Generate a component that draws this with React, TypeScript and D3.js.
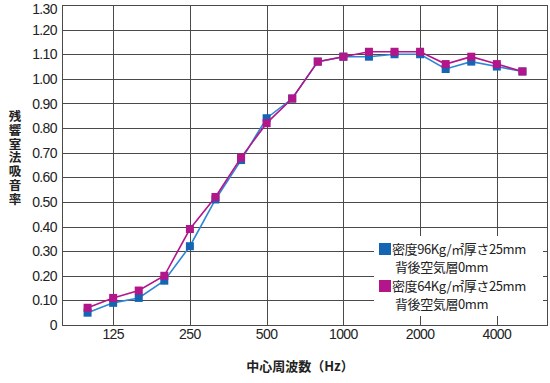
import React from "react";
import * as d3 from "d3";

const freqLabels = ["100","125","160","200","250","315","400","500","630","800","1000","1250","1600","2000","2500","3150","4000","5000"];
const series96 = [0.05,0.09,0.11,0.18,0.32,0.51,0.67,0.84,0.92,1.07,1.09,1.09,1.10,1.10,1.04,1.07,1.05,1.03];
const series64 = [0.07,0.11,0.14,0.20,0.39,0.52,0.68,0.82,0.92,1.07,1.09,1.11,1.11,1.11,1.06,1.09,1.06,1.03];
const xTickLabels = ["125","250","500","1000","2000","4000"];
const yTicks = [0,0.1,0.2,0.3,0.4,0.5,0.6,0.7,0.8,0.9,1.0,1.1,1.2,1.3];
const yTitle = "残響室法吸音率";
const xTitle = "中心周波数（Hz）";
const legendLine1 = ["密度96Kg/㎡厚さ25mm","密度64Kg/㎡厚さ25mm"];
const legendLine2 = ["背後空気層0mm","背後空気層0mm"];
const colors = ["#1466b4","#b3158a"];
const lineColors = ["#2e86d4","#b3158a"];

const W = 550, H = 383;
const L = 62, R = 548, T = 5, B = 325;

export default function App() {
  const x = d3.scaleLinear().domain([-1, freqLabels.length]).range([L, R]);
  const y = d3.scaleLinear().domain([0, 1.3]).range([B, T]);
  const line = d3.line<number>().x((_, i) => x(i)).y((d) => y(d));
  const font = "'Liberation Sans', Arial, sans-serif";
  const cjk = "'Noto Sans CJK JP', sans-serif";
  const xIdx = xTickLabels.map((l) => freqLabels.indexOf(l));
  const series = [series96, series64];
  return (
    <svg width={W} height={H} style={{ position: "absolute", left: 0, top: 0 }}>
      <rect x={0} y={0} width={W} height={H} fill="#fff" />
      {yTicks.map((t) => (
        <line key={"h" + t} x1={L} x2={R} y1={Math.round(y(t)) + 0.5} y2={Math.round(y(t)) + 0.5} stroke="#4a4a4a" strokeWidth={1} />
      ))}
      {xIdx.map((i) => (
        <line key={"v" + i} x1={Math.round(x(i)) + 0.5} x2={Math.round(x(i)) + 0.5} y1={T} y2={B} stroke="#4a4a4a" strokeWidth={1} />
      ))}
      <line x1={L + 0.5} x2={L + 0.5} y1={T} y2={B + 0.5} stroke="#4a4a4a" />
      <line x1={R - 0.5} x2={R - 0.5} y1={T} y2={B + 0.5} stroke="#4a4a4a" />
      <rect x={374} y={236} width={169} height={80} fill="#fff" />
      {series.map((s, k) => (
        <g key={"s" + k}>
          <path d={line(s) || ""} fill="none" stroke={lineColors[k]} strokeWidth={1.6} />
          {s.map((v, i) => (
            <rect key={i} x={x(i) - 4} y={y(v) - 4} width={8} height={8} fill={colors[k]} />
          ))}
        </g>
      ))}
      {yTicks.map((t) => (
        <text key={"yl" + t} x={57} y={Math.max(y(t), 9)} dy="0.36em" textAnchor="end" fontFamily={font} fontSize={14} letterSpacing={-0.6} fill="#222">
          {t === 0 ? "0" : t.toFixed(2)}
        </text>
      ))}
      {xIdx.map((i, j) => (
        <text key={"xl" + i} x={x(i)} y={339} textAnchor="middle" fontFamily={font} fontSize={14} letterSpacing={-0.6} fill="#222">
          {xTickLabels[j]}
        </text>
      ))}
      <text x={15} y={110} style={{ writingMode: "vertical-rl", textOrientation: "upright" }} fontFamily={cjk} fontWeight="bold" fontSize={12.5} letterSpacing={1.3} fill="#222">
        {yTitle}
      </text>
      <text x={300} y={366} dy="0.36em" textAnchor="middle" fontFamily={cjk} fontWeight="bold" fontSize={13} fill="#222">
        {xTitle}
      </text>
      {[0, 1].map((k) => (
        <g key={"lg" + k}>
          <rect x={379} y={243 + k * 37} width={12} height={12} fill={colors[k]} />
          <text x={392} y={249 + k * 37} dy="0.36em" fontFamily={cjk} fontSize={13} letterSpacing={-0.4} fill="#222">
            {legendLine1[k]}
          </text>
          <text x={395} y={267 + k * 37} dy="0.36em" fontFamily={cjk} fontSize={13} letterSpacing={-0.4} fill="#222">
            {legendLine2[k]}
          </text>
        </g>
      ))}
    </svg>
  );
}
